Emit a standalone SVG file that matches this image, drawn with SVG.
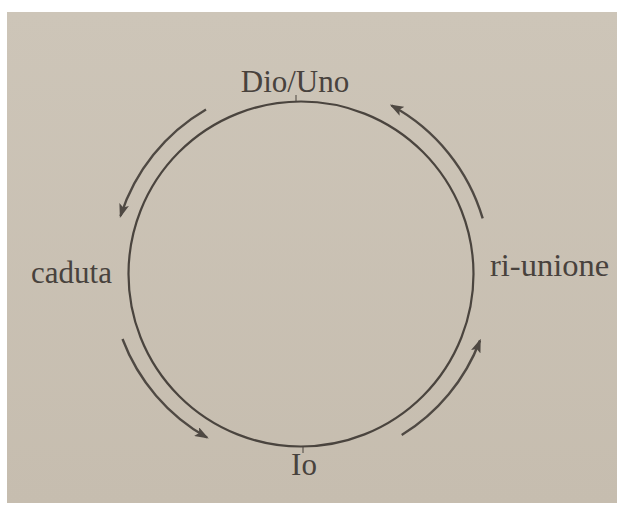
<svg xmlns="http://www.w3.org/2000/svg" width="617" height="508" viewBox="0 0 617 508">
<style>
.lbl{font-family:"Liberation Serif","Times New Roman",serif;font-size:31px;fill:#48423d}
.ring{fill:none;stroke:#4a443e;stroke-width:2.2}
.arc{fill:none;stroke:#4f4943;stroke-width:2.4;marker-end:url(#ah)}
.tick{stroke:#4a443e;stroke-width:1}
</style>
<defs>
<linearGradient id="bg" x1="0" y1="0" x2="0" y2="1">
<stop offset="0" stop-color="#cdc5b8"/>
<stop offset="1" stop-color="#c6bdaf"/>
</linearGradient>
<marker id="ah" viewBox="0 0 14 10" refX="12" refY="5" markerWidth="14" markerHeight="10" markerUnits="userSpaceOnUse" orient="auto">
<path d="M0,0 L14,5 L0,10 L3,5 Z" fill="#4f4943"/>
</marker>
</defs>
<rect width="617" height="508" fill="#ffffff"/>
<rect x="7" y="12" width="610" height="491" fill="url(#bg)"/>
<g id="cycle">
<circle class="ring" cx="301" cy="274" r="172.5"/>
<line class="tick" x1="296" y1="95" x2="296" y2="102"/>
<line class="tick" x1="303" y1="446" x2="303" y2="453"/>
</g>
<g id="connectors">
<path class="arc" d="M206,109.5 A190,190 0 0 0 120.5,216"/>
<path class="arc" d="M122.5,339 A190,190 0 0 0 207,437.5"/>
<path class="arc" d="M401.7,435.1 A190,190 0 0 0 480,340.5"/>
<path class="arc" d="M482.7,218.4 A190,190 0 0 0 391.5,105.5"/>
</g>
<g id="dio-uno"><text class="lbl" x="295" y="92" text-anchor="middle">Dio/Uno</text></g>
<g id="caduta"><text class="lbl" x="31" y="283">caduta</text></g>
<g id="ri-unione"><text class="lbl" x="490" y="276" style="font-size:32.5px">ri-unione</text></g>
<g id="io"><text class="lbl" x="304" y="475" text-anchor="middle">Io</text></g>
</svg>
